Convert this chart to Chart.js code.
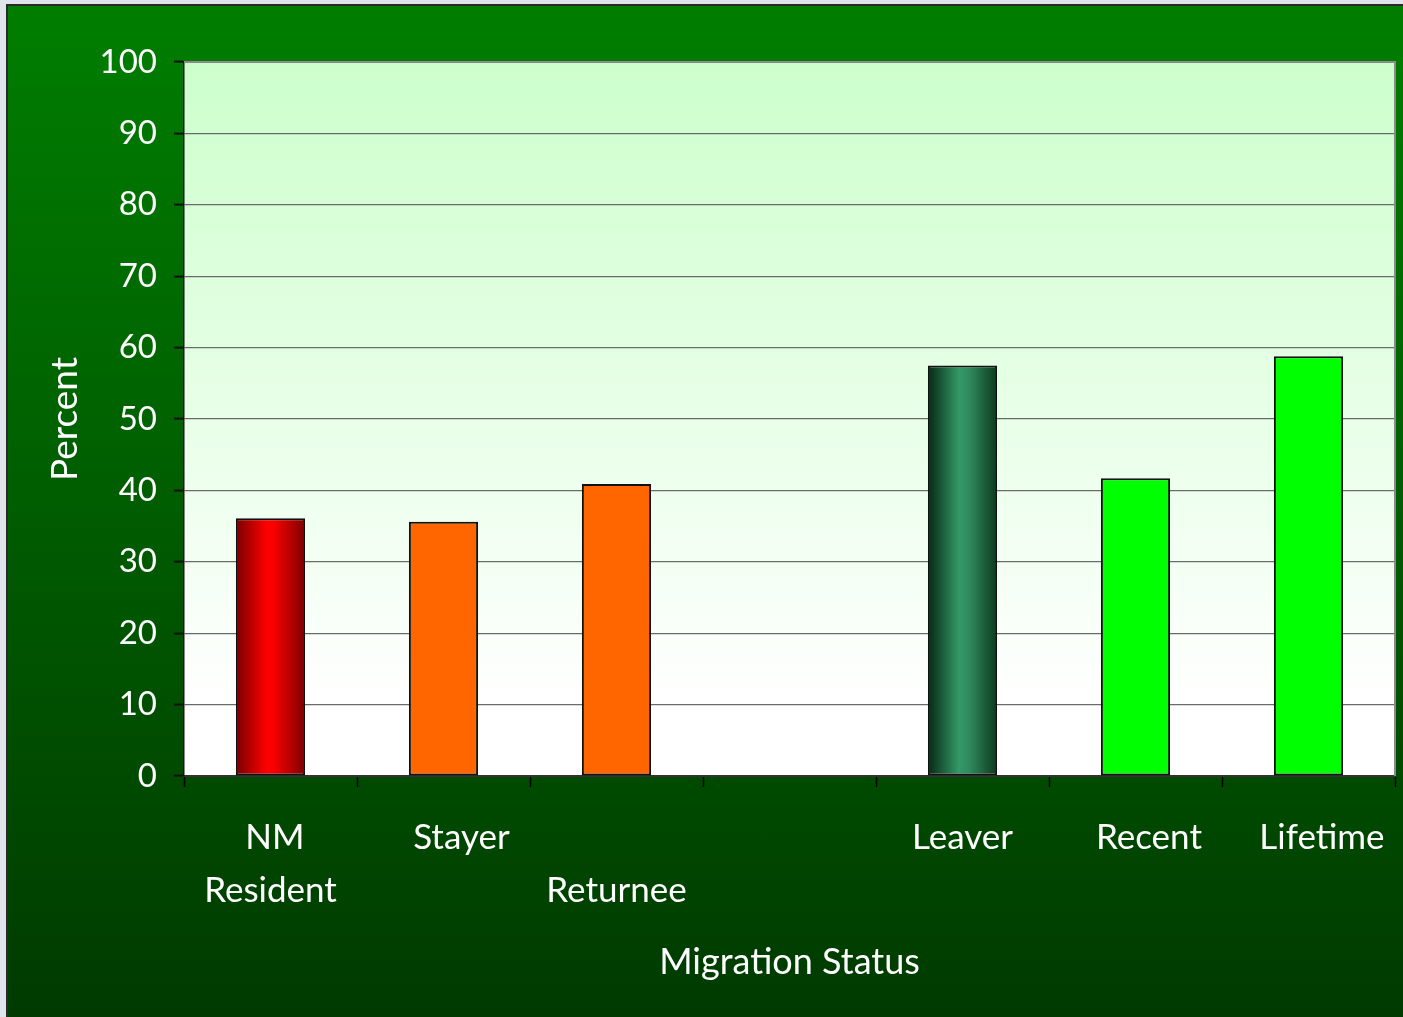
<!DOCTYPE html>
<html>
<head>
<meta charset="utf-8">
<script src="https://cdn.jsdelivr.net/npm/chart.js@4.4.1/dist/chart.umd.min.js"></script>
<style>
  html, body { margin: 0; padding: 0; }
  body { width: 1403px; height: 1017px; background: #dfe5eb; position: relative; overflow: hidden; }
  #frame {
    position: absolute; left: 6px; top: 4px;
    width: 1395px; height: 1011px;
    border-left: 2px solid #2a2a2a; border-top: 2px solid #2a2a2a;
    background: linear-gradient(to bottom, #007e00 0%, #004a00 77%, #003a00 100%);
  }
  canvas { display: block; }
</style>
</head>
<body>
<div id="frame"><canvas id="c" width="1395" height="1011"></canvas></div>
<script>
// ---- data ----
const categories = [[' NM', 'Resident'], '    Stayer', ['', 'Returnee'], '', 'Leaver', '   Recent', '   Lifetime'];
const percentValues = [36.1, 35.6, 40.9, null, 57.5, 41.7, 58.8];
const barFills = ['redGradient', '#ff6600', '#ff6600', null, 'greenGradient', '#00ff00', '#00ff00'];
const xTitle = 'Migration Status';
const yTitle = 'Percent';

const FONT = 'Lato, "Open Sans", "DejaVu Sans", sans-serif';

const gradientStops = {
  redGradient: [[0, '#7a0000'], [0.45, '#ff0000'], [0.55, '#f80000'], [1, '#7e0000']],
  greenGradient: [[0, '#062814'], [0.45, '#339966'], [0.6, '#2f8a5c'], [1, '#0c3a1e']]
};

function barBackground(ctx) {
  const fill = barFills[ctx.dataIndex];
  if (!fill) return 'rgba(0,0,0,0)';
  if (!gradientStops[fill]) return fill;
  const chart = ctx.chart;
  const xs = chart.scales.x;
  if (!xs || !chart.chartArea) return gradientStops[fill][1][1];
  const center = xs.getPixelForValue(ctx.dataIndex);
  const catW = (xs.right - xs.left) / categories.length;
  const w = catW * 0.4;
  const g = chart.ctx.createLinearGradient(center - w / 2, 0, center + w / 2, 0);
  gradientStops[fill].forEach(s => g.addColorStop(s[0], s[1]));
  return g;
}

const plotStyle = {
  id: 'plotStyle',
  beforeDraw(chart) {
    const { ctx, chartArea: a } = chart;
    ctx.save();
    const g = ctx.createLinearGradient(0, a.top, 0, a.bottom);
    g.addColorStop(0, '#ccffcc');
    g.addColorStop(0.9, '#ffffff');
    g.addColorStop(1, '#ffffff');
    ctx.fillStyle = g;
    ctx.fillRect(a.left, a.top, a.right - a.left, a.bottom - a.top);
    ctx.restore();
  },
  afterDraw(chart) {
    const { ctx, chartArea: a } = chart;
    ctx.save();
    ctx.strokeStyle = '#8a8a8a';
    ctx.lineWidth = 2;
    ctx.beginPath();
    ctx.moveTo(a.left, a.top);
    ctx.lineTo(a.right, a.top);
    ctx.lineTo(a.right, a.bottom);
    ctx.stroke();
    ctx.restore();
  }
};

new Chart(document.getElementById('c'), {
  type: 'bar',
  data: {
    labels: categories,
    datasets: [{
      data: percentValues,
      backgroundColor: barBackground,
      borderColor: '#111111',
      borderWidth: 2,
      borderSkipped: false,
      barPercentage: 0.4,
      categoryPercentage: 1.0
    }]
  },
  options: {
    responsive: false,
    animation: false,
    layout: { padding: { top: 56, right: 8, left: 0, bottom: 0 } },
    plugins: { legend: { display: false }, tooltip: { enabled: false } },
    scales: {
      x: {
        afterFit(s) { s.height = 241; s.paddingLeft = 0; s.paddingRight = 0; },
        grid: { drawOnChartArea: false, drawTicks: true, tickLength: 11, color: '#000', tickWidth: 1.5, offset: true },
        border: { display: true, color: '#333333', width: 2 },
        ticks: { color: '#ffffff', padding: 25, maxRotation: 0, autoSkip: false,
                 font: { family: FONT, size: 35, lineHeight: 1.49 } },
        title: { display: true, text: xTitle, color: '#ffffff',
                 font: { family: FONT, size: 36, lineHeight: 1.2 }, padding: { top: 0, bottom: 33 } }
      },
      y: {
        min: 0, max: 100,
        afterFit(s) { s.width = 176; },
        grid: { color: '#6b6b6b', lineWidth: 1.2, tickLength: 10, tickColor: '#111', tickWidth: 2 },
        border: { display: true, color: '#111', width: 1.5 },
        ticks: { stepSize: 10, color: '#ffffff', padding: 17,
                 font: { family: FONT, size: 33 } },
        title: { display: true, text: yTitle, color: '#ffffff',
                 font: { family: FONT, size: 37, lineHeight: 1.2 }, padding: { top: 35, bottom: 0 } }
      }
    }
  },
  plugins: [plotStyle]
});
</script>
</body>
</html>
